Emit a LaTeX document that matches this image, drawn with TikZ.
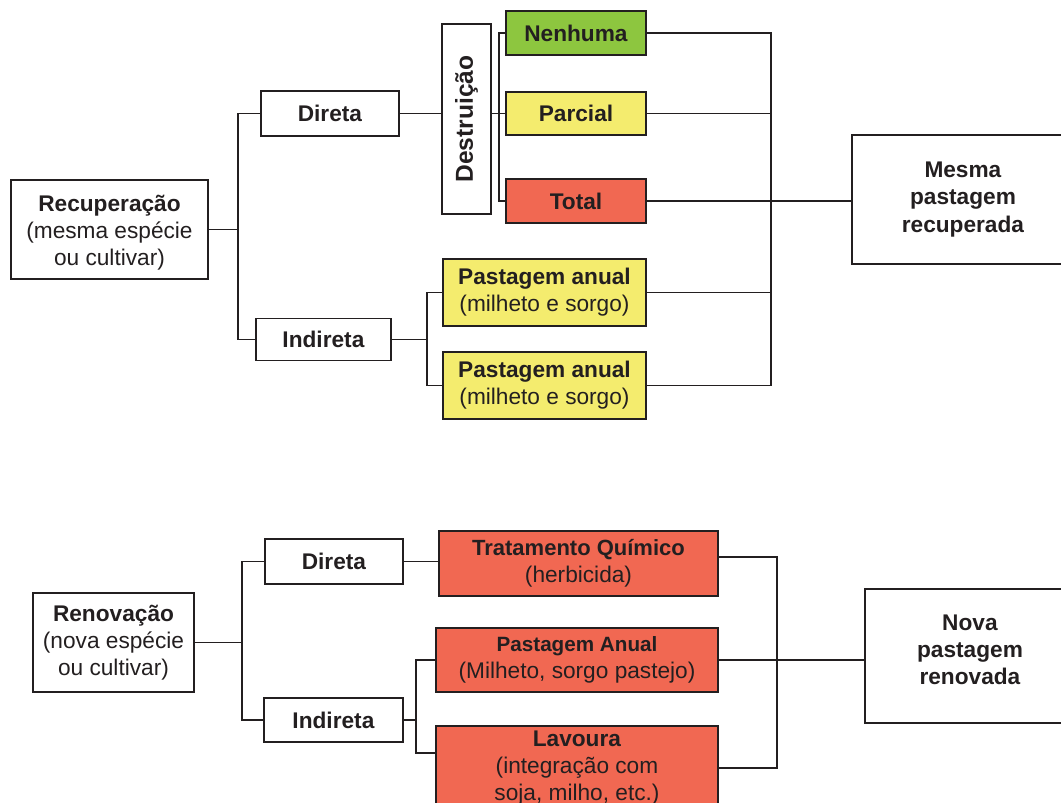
\documentclass[tikz,border=0pt]{standalone}
\usepackage{fontspec}
\usepackage{graphicx}
\setmainfont{Liberation Sans}
\definecolor{ink}{HTML}{231F20}
\definecolor{verde}{HTML}{8DC63F}
\definecolor{amarelo}{HTML}{F4EC6E}
\definecolor{vermelho}{HTML}{F16852}
\def\pxl{0.75pt}
\begin{document}
\begin{tikzpicture}[x=\pxl,y=-\pxl,
    caixa/.style={draw=ink, line width=1.35pt, text=ink, inner sep=0pt, align=center,
        font=\fontsize{17}{20.3}\selectfont},
    sz/.style 2 args={minimum width=#1*\pxl, minimum height=#2*\pxl},
    liga/.style={draw=ink, line width=1.3pt}]
    \useasboundingbox (0,0) rectangle (1061,803);
    \clip (0,0) rectangle (1061,803);
    % bus lines
    \coordinate (b0) at (238,0); \coordinate (b1) at (499,0);
    \coordinate (b2) at (427,0); \coordinate (b3) at (771,0);
    \coordinate (b4) at (242,0); \coordinate (b5) at (416,0);
    \coordinate (b6) at (777,0);
    % recuperacao
    \node[caixa, sz={197}{99}] (recup) at (109.5,229.5) {\mbox{}\\[-3.8pt]\textbf{Recuperação}\\(mesma espécie\\ou cultivar)};
    \node[caixa, sz={138}{45}] (direta1) at (330,113.5) {\textbf{Direta}};
    \node[caixa, sz={135}{42}] (indireta1) at (323.5,339.5) {\textbf{Indireta}};
    \node[caixa, sz={49}{190}] (destr) at (466.5,119) {\rotatebox{90}{\fontsize{18.4}{22}\selectfont\bfseries Destruição}};
    \node[caixa, sz={140}{44}, fill=verde] (nenhuma) at (576,33) {\textbf{Nenhuma}};
    \node[caixa, sz={140}{43}, fill=amarelo] (parcial) at (576,113.5) {\textbf{Parcial}};
    \node[caixa, sz={140}{44}, fill=vermelho] (total) at (576,201) {\textbf{Total}};
    \node[caixa, sz={203}{67}, fill=amarelo] (pa1) at (544.5,292.5) {\textbf{Pastagem anual}\\(milheto e sorgo)};
    \node[caixa, sz={203}{67}, fill=amarelo] (pa2) at (544.5,385.5) {\textbf{Pastagem anual}\\(milheto e sorgo)};
    \node[caixa, sz={222}{129}] (mesma) at (963,199.5) {\textbf{Mesma}\\\textbf{pastagem}\\\textbf{recuperada}};
    \draw[liga] (recup.east) -- (recup.east -| b0);
    \draw[liga] (direta1.west) -- (direta1.west -| b0) -- (indireta1.west -| b0) -- (indireta1.west);
    \draw[liga] (direta1.east) -- (direta1.east -| destr.west);
    \draw[liga] (destr.east |- parcial.west) -- (parcial.west);
    \draw[liga] (nenhuma.west) -- (nenhuma.west -| b1) -- (total.west -| b1) -- (total.west);
    \draw[liga] (indireta1.east) -- (indireta1.east -| b2);
    \draw[liga] (pa1.west) -- (pa1.west -| b2) -- (pa2.west -| b2) -- (pa2.west);
    \draw[liga] (nenhuma.east) -- (nenhuma.east -| b3) -- (pa2.east -| b3) -- (pa2.east);
    \foreach \n in {parcial,pa1} \draw[liga] (\n.east) -- (\n.east -| b3);
    \draw[liga] (total.east) -- (total.east -| mesma.west);
    % renovacao
    \node[caixa, sz={161}{99}] (renov) at (113.5,642.5) {\textbf{Renovação}\\(nova espécie\\ou cultivar)};
    \node[caixa, sz={138}{45}] (direta2) at (334,561.5) {\textbf{Direta}};
    \node[caixa, sz={139}{44}] (indireta2) at (333.5,720) {\textbf{Indireta}};
    \node[caixa, sz={279}{65}, fill=vermelho] (trat) at (578.5,563.5) {{\fontsize{16.5}{20.3}\selectfont\bfseries Tratamento Químico}\\(herbicida)};
    \node[caixa, sz={282}{64}, fill=vermelho] (panual) at (577,660) {{\fontsize{15.5}{20.3}\selectfont\bfseries Pastagem Anual}\\(Milheto, sorgo pastejo)};
    \node[caixa, sz={282}{84}, fill=vermelho] (lavoura) at (577,768) {\textbf{Lavoura}\\(integração com\\soja, milho, etc.)};
    \node[caixa, sz={210}{134}] (nova) at (970,656) {\textbf{Nova}\\\textbf{pastagem}\\\textbf{renovada}\\[-11pt]\mbox{}};
    \coordinate (lv) at ([yshift=11.25pt]lavoura.west);
    \coordinate (tr) at ([yshift=4.9pt]trat.east);
    \draw[liga] (renov.east) -- (renov.east -| b4);
    \draw[liga] (direta2.west) -- (direta2.west -| b4) -- (indireta2.west -| b4) -- (indireta2.west);
    \draw[liga] (direta2.east) -- (direta2.east -| trat.west);
    \draw[liga] (indireta2.east) -- (indireta2.east -| b5);
    \draw[liga] (panual.west) -- (panual.west -| b5) -- (lv -| b5) -- (lv);
    \draw[liga] (tr) -- (tr -| b6) -- (lavoura.east -| b6) -- (lavoura.east);
    \draw[liga] (panual.east) -- (panual.east -| nova.west);
\end{tikzpicture}
\end{document}
